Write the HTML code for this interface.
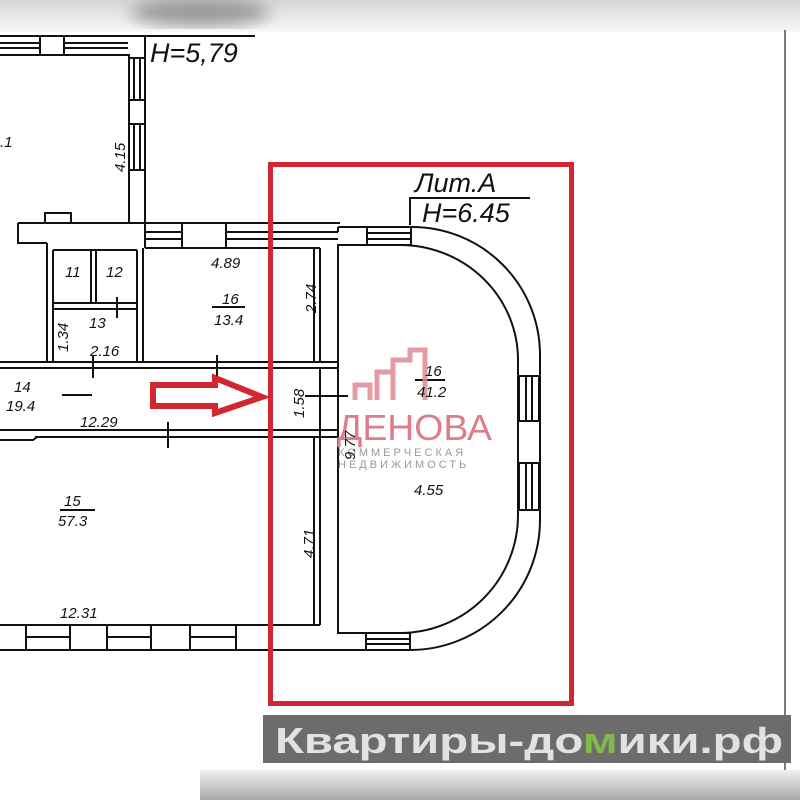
<!DOCTYPE html>
<html><head><meta charset="utf-8"><style>
html,body{margin:0;padding:0;background:#fff}
svg{display:block}
text{font-family:"Liberation Sans",sans-serif;font-style:italic;fill:#111}
</style></head><body>
<svg width="800" height="800" viewBox="0 0 800 800" xmlns="http://www.w3.org/2000/svg">
<defs>
<linearGradient id="tg" x1="0" y1="0" x2="0" y2="1"><stop offset="0" stop-color="#d6d6d6"/><stop offset="1" stop-color="#f8f8f8"/></linearGradient>
<linearGradient id="bg" x1="0" y1="0" x2="0" y2="1"><stop offset="0" stop-color="#f0f0f0"/><stop offset="1" stop-color="#a8a8a8"/></linearGradient>
<filter id="bl"><feGaussianBlur stdDeviation="8"/></filter>
</defs>
<rect width="800" height="800" fill="#fff"/>
<rect x="0" y="0" width="800" height="32" fill="url(#tg)"/>
<ellipse cx="200" cy="12" rx="70" ry="14" fill="#999" filter="url(#bl)"/>
<rect x="200" y="770" width="600" height="30" fill="url(#bg)"/>
<line x1="785" y1="30" x2="785" y2="770" stroke="#222" stroke-width="1.2"/>

<g fill="none" stroke="#111" stroke-width="2">
<line x1="0" y1="36" x2="255" y2="36"/>
<line x1="0" y1="55" x2="130" y2="55"/>
<line x1="0" y1="43" x2="40" y2="43"/><line x1="0" y1="48" x2="40" y2="48"/>
<rect x="40" y="36" width="24" height="19"/>
<line x1="64" y1="43" x2="128" y2="43"/><line x1="64" y1="48" x2="128" y2="48"/>
<line x1="129" y1="55" x2="129" y2="223"/>
<line x1="145" y1="36" x2="145" y2="223"/>
<line x1="134" y1="58" x2="134" y2="100"/><line x1="140" y1="58" x2="140" y2="100"/>
<rect x="129" y="100" width="16" height="24"/>
<line x1="134" y1="124" x2="134" y2="170"/><line x1="140" y1="124" x2="140" y2="170"/>
<line x1="129" y1="58" x2="145" y2="58"/><line x1="129" y1="170" x2="145" y2="170"/>
<path d="M18 223 H340 M18 223 V243 H47 M145 223 V248"/>
<rect x="45" y="213" width="26" height="10"/>
<line x1="145" y1="248" x2="320" y2="248"/>
<line x1="145" y1="232" x2="182" y2="232"/><line x1="145" y1="239" x2="182" y2="239"/>
<rect x="182" y="223" width="44" height="25"/>
<line x1="226" y1="232" x2="268" y2="232"/><line x1="226" y1="239" x2="268" y2="239"/>
<line x1="268" y1="232" x2="338" y2="232"/><line x1="268" y1="239" x2="338" y2="239"/>
<line x1="47" y1="243" x2="47" y2="362"/><line x1="53" y1="250" x2="53" y2="362"/>
<line x1="137" y1="250" x2="137" y2="362"/><line x1="143" y1="248" x2="143" y2="362"/>
<line x1="53" y1="250" x2="137" y2="250"/>
<line x1="91" y1="250" x2="91" y2="303"/><line x1="96" y1="250" x2="96" y2="303"/>
<line x1="53" y1="303" x2="137" y2="303"/><line x1="53" y1="309" x2="137" y2="309"/>
<line x1="117" y1="297" x2="117" y2="318"/>
<line x1="314" y1="248" x2="314" y2="362"/><line x1="320" y1="248" x2="320" y2="362"/>
<line x1="0" y1="362" x2="338" y2="362"/><line x1="0" y1="368" x2="338" y2="368"/>
<line x1="93" y1="355" x2="93" y2="378"/><line x1="217" y1="355" x2="217" y2="378"/>
<line x1="0" y1="430" x2="338" y2="430"/><line x1="35" y1="437" x2="338" y2="437"/>
<path d="M0 440 H33 L37 437"/>
<line x1="168" y1="422" x2="168" y2="448"/>
<rect x="320" y="368" width="18" height="62"/>
<line x1="305" y1="396" x2="348" y2="396"/>
<line x1="314" y1="437" x2="314" y2="625"/><line x1="320" y1="430" x2="320" y2="625"/>
<line x1="0" y1="625" x2="320" y2="625"/>
<line x1="0" y1="650" x2="410" y2="650"/>
<rect x="26" y="625" width="44" height="25"/><line x1="26" y1="637" x2="70" y2="637"/>
<rect x="107" y="625" width="44" height="25"/><line x1="107" y1="637" x2="151" y2="637"/>
<rect x="190" y="625" width="46" height="25"/><line x1="190" y1="637" x2="236" y2="637"/>
<path d="M338 227 H412 A128 128 0 0 1 540 355 V520 A130 130 0 0 1 410 650"/>
<path d="M338 245 V633 H400 A118 118 0 0 0 518 515 V360 A118 115 0 0 0 400 245 Z"/>
<line x1="338" y1="227" x2="338" y2="232"/>
<rect x="367" y="227" width="44" height="18"/><line x1="367" y1="233" x2="411" y2="233"/><line x1="367" y1="239" x2="411" y2="239"/>
<rect x="366" y="633" width="44" height="17"/><line x1="366" y1="639" x2="410" y2="639"/><line x1="366" y1="644" x2="410" y2="644"/>
<rect x="519" y="376" width="20" height="45"/><line x1="526" y1="376" x2="526" y2="421"/><line x1="532" y1="376" x2="532" y2="421"/>
<rect x="519" y="463" width="20" height="47"/><line x1="526" y1="463" x2="526" y2="510"/><line x1="532" y1="463" x2="532" y2="510"/>
<path d="M410 225 V198 H530"/>
<line x1="415" y1="380" x2="445" y2="380"/>
<line x1="62" y1="395" x2="92" y2="395"/>
<line x1="60" y1="510" x2="95" y2="510"/>
<line x1="212" y1="307" x2="245" y2="307"/>
</g>

<g fill="none" stroke="#e08a96" stroke-width="5" opacity="0.85">
<path d="M393 400 V360 H410 V350 H425 V400"/>
<path d="M355 400 V385 H370 V400"/>
<path d="M377 400 V372 H392"/>
</g>
<text x="337" y="440" font-size="36" textLength="155" lengthAdjust="spacingAndGlyphs" style="fill:#dd7d8b;font-style:normal">ДЕНОВА</text>
<text x="338" y="456" font-size="11" style="fill:#9a9a9a;font-style:normal;letter-spacing:3px">КОММЕРЧЕСКАЯ</text>
<text x="338" y="468" font-size="11" style="fill:#9a9a9a;font-style:normal;letter-spacing:3px">НЕДВИЖИМОСТЬ</text>

<text x="150" y="62" font-size="27">H=5,79</text>
<text x="415" y="192" font-size="27">Лит.А</text>
<text x="422" y="222" font-size="27">H=6.45</text>
<text x="0" y="147" font-size="15">.1</text>
<text font-size="15" transform="translate(125,172) rotate(-90)">4.15</text>
<text x="65" y="277" font-size="15">11</text>
<text x="106" y="277" font-size="15">12</text>
<text x="89" y="328" font-size="15">13</text>
<text font-size="15" transform="translate(68,352) rotate(-90)">1.34</text>
<text x="90" y="356" font-size="15">2.16</text>
<text x="211" y="268" font-size="15">4.89</text>
<text x="222" y="304" font-size="15">16</text>
<text x="214" y="325" font-size="15">13.4</text>
<text font-size="15" transform="translate(316,313) rotate(-90)">2.74</text>
<text x="14" y="392" font-size="15">14</text>
<text x="6" y="411" font-size="15">19.4</text>
<text x="80" y="427" font-size="15">12.29</text>
<text font-size="15" transform="translate(304,418) rotate(-90)">1.58</text>
<text x="425" y="376" font-size="15">16</text>
<text x="417" y="397" font-size="15">41.2</text>
<text font-size="15" transform="translate(355,460) rotate(-90)">9.77</text>
<text x="414" y="495" font-size="15">4.55</text>
<text x="64" y="506" font-size="15">15</text>
<text x="58" y="526" font-size="15">57.3</text>
<text font-size="15" transform="translate(314,558) rotate(-90)">4.71</text>
<text x="60" y="618" font-size="15">12.31</text>

<path d="M153 385 H215 V378 L262 397 L215 413 V406 H153 Z" fill="#fff" stroke="#d22630" stroke-width="6"/>
<rect x="270.5" y="164.5" width="301" height="539" fill="none" stroke="#d22630" stroke-width="5"/>

<rect x="263" y="715" width="528" height="48" fill="#6c6c6c"/>
<text x="275" y="753" font-size="36" textLength="508" lengthAdjust="spacingAndGlyphs" style="font-style:normal;font-weight:bold;fill:#e2e2e2">Квартиры-до<tspan style="fill:#7fba4a">м</tspan>ики.рф</text>
</svg>
</body></html>
